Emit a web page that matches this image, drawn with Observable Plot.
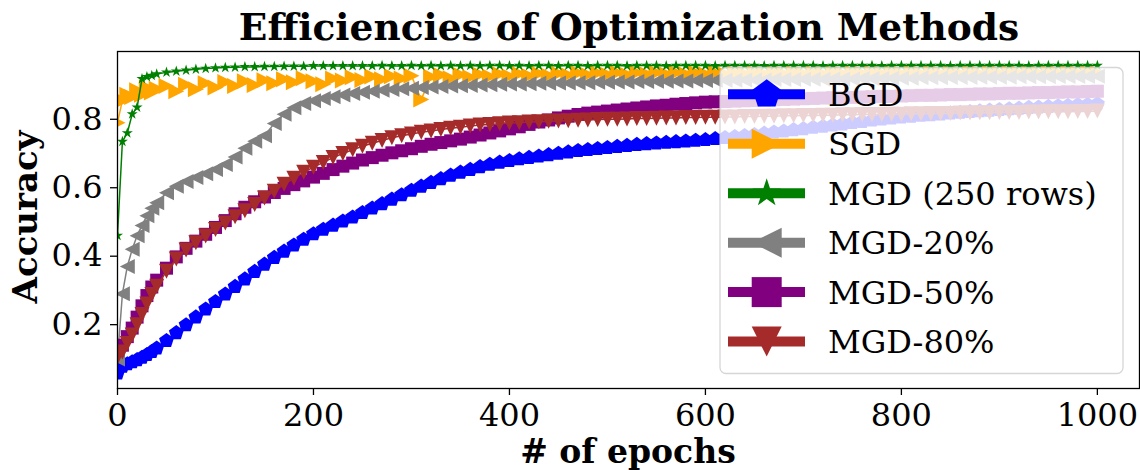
<!DOCTYPE html>
<html><head><meta charset="utf-8">
<script src="https://cdn.jsdelivr.net/npm/d3@7"></script>
<script src="https://cdn.jsdelivr.net/npm/@observablehq/plot@0.6"></script>
<style>
html,body{margin:0;padding:0;background:#fff;}
#chart{width:1140px;height:470px;}
</style></head><body><div id="chart"></div>
<script>
const epochs = [0,5,10,15,20,25,30,35,40,50,60,70,80,90,100,110,120,130,140,150,160,170,180,190,200,210,220,230,240,250,260,270,280,290,300,310,320,330,340,350,360,370,380,390,400,410,420,430,440,450,460,470,480,490,500,510,520,530,540,550,560,570,580,590,600,610,620,630,640,650,660,670,680,690,700,710,720,730,740,750,760,770,780,790,800,810,820,830,840,850,860,870,880,890,900,910,920,930,940,950,960,970,980,990,1000];

const bgd = [0.058,0.078,0.085,0.091,0.097,0.104,0.112,0.121,0.131,
0.153,0.176,0.199,0.222,0.245,0.267,0.289,0.311,0.333,0.355,0.376,0.396,0.414,0.432,0.449,0.465,
0.478,0.490,0.502,0.514,0.527,0.540,0.553,0.566,0.579,0.592,
0.604,0.615,0.626,0.636,0.645,0.653,0.661,0.668,0.674,0.679,
0.684,0.688,0.692,0.696,0.700,0.704,0.708,0.711,0.714,0.717,
0.720,0.723,0.726,0.728,0.730,0.732,0.734,0.736,0.738,0.740,
0.743,0.746,0.749,0.752,0.755,0.759,0.762,0.765,0.769,0.772,
0.776,0.779,0.783,0.786,0.790,0.793,0.797,0.800,0.803,0.806,
0.808,0.811,0.813,0.815,0.818,0.820,0.822,0.824,0.826,0.828,
0.830,0.832,0.834,0.835,0.837,0.839,0.840,0.842,0.843,0.845];

const sgd = [0.790,0.855,0.872,0.865,0.885,0.872,0.893,0.878,0.889,
0.897,0.882,0.901,0.888,0.905,0.893,0.909,0.897,0.911,0.900,0.914,0.905,0.917,0.908,0.920,0.911,
0.902,0.919,0.913,0.923,0.915,0.925,0.917,0.926,0.919,0.927,
0.858,0.924,0.929,0.920,0.930,0.923,0.931,0.925,0.932,0.926,
0.933,0.927,0.934,0.928,0.934,0.929,0.935,0.930,0.935,0.931,
0.936,0.931,0.936,0.932,0.936,0.932,0.936,0.932,0.936,0.932,
0.936,0.932,0.936,0.933,0.937,0.933,0.937,0.933,0.937,0.933,
0.937,0.933,0.937,0.933,0.937,0.934,0.937,0.934,0.937,0.934,
0.938,0.934,0.938,0.934,0.938,0.934,0.938,0.934,0.938,0.935,
0.938,0.935,0.938,0.935,0.938,0.935,0.938,0.935,0.938,0.936];

const mgd250 = [0.460,0.735,0.760,0.815,0.835,0.918,0.924,0.928,0.932,
0.937,0.940,0.943,0.946,0.948,0.950,0.951,0.952,0.953,0.953,0.954,0.954,0.955,0.955,0.955,0.956,
0.956,0.956,0.956,0.956,0.956,0.956,0.957,0.956,0.956,0.957,
0.956,0.957,0.956,0.957,0.956,0.957,0.956,0.957,0.957,0.956,
0.957,0.956,0.957,0.957,0.956,0.957,0.957,0.956,0.957,0.957,
0.957,0.956,0.957,0.957,0.957,0.956,0.957,0.957,0.957,0.957,
0.956,0.957,0.957,0.957,0.957,0.956,0.957,0.957,0.957,0.957,
0.957,0.956,0.957,0.957,0.957,0.957,0.957,0.956,0.957,0.957,
0.957,0.957,0.957,0.957,0.956,0.957,0.957,0.957,0.957,0.957,
0.957,0.957,0.956,0.957,0.957,0.957,0.957,0.957,0.957,0.957];

const mgd20 = [0.100,0.290,0.370,0.420,0.460,0.490,0.518,0.540,0.556,
0.585,0.604,0.618,0.630,0.641,0.653,0.668,0.690,0.715,0.736,0.752,0.788,0.815,0.834,0.846,0.854,
0.861,0.866,0.871,0.875,0.879,0.882,0.885,0.887,0.889,0.891,
0.893,0.894,0.896,0.897,0.898,0.899,0.900,0.901,0.902,0.903,
0.903,0.904,0.905,0.905,0.906,0.906,0.907,0.907,0.908,0.908,
0.909,0.909,0.910,0.910,0.911,0.911,0.912,0.912,0.913,0.913,
0.914,0.914,0.914,0.915,0.915,0.915,0.916,0.916,0.916,0.917,
0.917,0.917,0.918,0.918,0.918,0.919,0.919,0.919,0.920,0.920,
0.920,0.921,0.921,0.921,0.922,0.922,0.922,0.923,0.923,0.923,
0.923,0.924,0.924,0.924,0.924,0.925,0.925,0.925,0.925,0.926];

const mgd50 = [0.125,0.140,0.165,0.190,0.222,0.255,0.285,0.310,0.330,
0.365,0.398,0.423,0.444,0.464,0.484,0.504,0.524,0.543,0.559,0.573,0.586,0.598,0.609,0.620,0.631,
0.642,0.653,0.663,0.672,0.681,0.688,0.695,0.702,0.708,0.714,
0.721,0.727,0.732,0.737,0.742,0.748,0.754,0.760,0.766,0.772,
0.778,0.785,0.792,0.798,0.804,0.809,0.814,0.818,0.821,0.824,
0.827,0.830,0.833,0.836,0.839,0.841,0.844,0.846,0.848,0.850,
0.851,0.852,0.853,0.854,0.855,0.856,0.857,0.858,0.859,0.860,
0.861,0.862,0.863,0.864,0.864,0.865,0.866,0.867,0.867,0.868,
0.869,0.870,0.870,0.871,0.872,0.872,0.873,0.874,0.874,0.875,
0.876,0.876,0.877,0.878,0.878,0.879,0.880,0.880,0.881,0.882];

const mgd80 = [0.105,0.120,0.145,0.170,0.200,0.230,0.260,0.288,0.312,
0.356,0.392,0.418,0.439,0.459,0.478,0.497,0.515,0.533,0.551,0.570,0.590,0.610,0.628,0.645,0.660,
0.674,0.688,0.700,0.711,0.721,0.730,0.738,0.746,0.752,0.757,
0.762,0.766,0.770,0.774,0.777,0.780,0.783,0.785,0.787,0.789,
0.790,0.792,0.793,0.794,0.795,0.796,0.797,0.798,0.799,0.800,
0.800,0.801,0.802,0.802,0.803,0.804,0.804,0.805,0.805,0.806,
0.806,0.807,0.807,0.808,0.808,0.809,0.809,0.810,0.810,0.811,
0.811,0.812,0.812,0.813,0.813,0.814,0.814,0.814,0.815,0.815,
0.816,0.816,0.817,0.817,0.817,0.818,0.818,0.819,0.819,0.820,
0.820,0.820,0.821,0.821,0.822,0.822,0.822,0.823,0.823,0.824];

const seriesNames = ["BGD","SGD","MGD (250 rows)","MGD-20%","MGD-50%","MGD-80%"];
const seriesColors = ["#0000ff","#ffa500","#008000","#808080","#800080","#a52a2a"];
const xTicks = [0,200,400,600,800,1000];
const yTicks = [0.2,0.4,0.6,0.8];

// matplotlib-like marker shapes (m = marker size = 2r)
function poly(ctx, pts){ ctx.moveTo(pts[0][0],pts[0][1]); for(let i=1;i<pts.length;i++) ctx.lineTo(pts[i][0],pts[i][1]); ctx.closePath(); }
const msize = size => 2*Math.sqrt(size/Math.PI);
const symPentagon = {draw(ctx,size){const R=msize(size)/2;const p=[];for(let k=0;k<5;k++){const a=-Math.PI/2+k*2*Math.PI/5;p.push([R*Math.cos(a),R*Math.sin(a)]);}poly(ctx,p);}};
const symStar = {draw(ctx,size){const R=msize(size)/2, r=R*0.381966;const p=[];for(let k=0;k<10;k++){const a=-Math.PI/2+k*Math.PI/5;const rr=k%2?r:R;p.push([rr*Math.cos(a),rr*Math.sin(a)]);}poly(ctx,p);}};
const symTriRight = {draw(ctx,size){const h=msize(size)/2;poly(ctx,[[h,0],[-h,-h],[-h,h]]);}};
const symTriLeft = {draw(ctx,size){const h=msize(size)/2;poly(ctx,[[-h,0],[h,-h],[h,h]]);}};
const symTriDown = {draw(ctx,size){const h=msize(size)/2;poly(ctx,[[0,h],[-h,-h],[h,-h]]);}};
const symSquare = {draw(ctx,size){const h=msize(size)/2;poly(ctx,[[-h,-h],[h,-h],[h,h],[-h,h]]);}};

const seriesValues = [bgd, sgd, mgd250, mgd20, mgd50, mgd80];
const seriesSymbols = [symPentagon, symTriRight, symStar, symTriLeft, symSquare, symTriDown];
const seriesR = [7.8, 8, 5.8, 7.5, 6.5, 7.5];

const marks = [];
seriesValues.forEach((vals, i) => {
  const data = epochs.map((e, j) => ({x: e, y: vals[j]}));
  marks.push(Plot.line(data, {x: "x", y: "y", stroke: seriesColors[i], strokeWidth: 1.5, clip: true}));
  marks.push(Plot.dot(data, {x: "x", y: "y", symbol: seriesSymbols[i], r: seriesR[i], fill: seriesColors[i], stroke: "none", clip: true}));
});

const plot = Plot.plot({
  width: 1140, height: 470,
  marginTop: 51, marginBottom: 82, marginLeft: 117, marginRight: 1,
  style: {fontFamily: "'DejaVu Serif', serif", fontSize: "32px", background: "white", color: "black"},
  x: {domain: [0, 1043]},
  y: {domain: [0.0135, 0.998]},
  marks: [
    ...marks,
    Plot.frame({stroke: "black", strokeWidth: 1.3}),
    Plot.axisX({ticks: xTicks, tickSize: 7, tickPadding: 8, tickFormat: d => String(d), label: null, strokeWidth: 1.3}),
    Plot.axisY({ticks: yTicks, tickSize: 7, tickPadding: 8, tickFormat: d => d.toFixed(1), label: null, strokeWidth: 1.3})
  ]
});
document.getElementById("chart").appendChild(plot);

const svg = d3.select(plot);
const font = "'DejaVu Serif', serif";
svg.append("text").attr("x", 629).attr("y", 40).attr("text-anchor", "middle")
  .style("font-family", font).style("font-weight", "bold").style("font-size", "37.5px")
  .text("Efficiencies of Optimization Methods");
svg.append("text").attr("x", 628).attr("y", 463).attr("text-anchor", "middle")
  .style("font-family", font).style("font-weight", "bold").style("font-size", "33px")
  .text("# of epochs");
svg.append("text").attr("transform", "translate(37,217) rotate(-90)").attr("text-anchor", "middle")
  .style("font-family", font).style("font-weight", "bold").style("font-size", "34px")
  .text("Accuracy");

// legend
const lg = svg.append("g");
lg.append("rect").attr("x", 720).attr("y", 67.5).attr("width", 403).attr("height", 306).attr("rx", 6)
  .attr("fill", "white").attr("fill-opacity", 0.8).attr("stroke", "#cccccc").attr("stroke-opacity", 0.8).attr("stroke-width", 1.3);
seriesNames.forEach((name, i) => {
  const cy = 94.3 + i * 49.45;
  lg.append("line").attr("x1", 728).attr("x2", 805).attr("y1", cy).attr("y2", cy)
    .attr("stroke", seriesColors[i]).attr("stroke-width", 10);
  lg.append("path").attr("d", d3.symbol(seriesSymbols[i], 15 * 15 * Math.PI)())
    .attr("transform", `translate(766.7,${cy})`).attr("fill", seriesColors[i]);
  lg.append("text").attr("x", 828).attr("y", cy + 11.7).attr("text-anchor", "start")
    .style("font-family", font).style("font-size", "32px").attr("fill", "black").text(name);
});
</script></body></html>
